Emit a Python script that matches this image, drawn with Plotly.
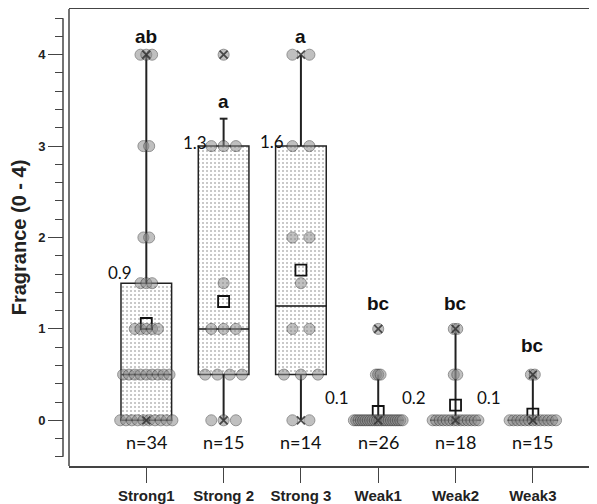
import plotly.graph_objects as go

# ---------------- data ----------------
categories = ["Strong1", "Strong 2", "Strong 3", "Weak1", "Weak2", "Weak3"]
score_levels = [0, 0.5, 1, 1.5, 2, 3, 4]
# number of panelists giving each score level (per group)
counts_strong1 = [10, 9, 5, 3, 2, 2, 3]
counts_strong2 = [3, 4, 3, 1, 0, 3, 1]
counts_strong3 = [2, 3, 2, 1, 2, 2, 2]
counts_weak1 = [22, 3, 1, 0, 0, 0, 0]
counts_weak2 = [14, 2, 2, 0, 0, 0, 0]
counts_weak3 = [13, 2, 0, 0, 0, 0, 0]
group_counts = [counts_strong1, counts_strong2, counts_strong3,
                counts_weak1, counts_weak2, counts_weak3]

# box statistics
q1 = [0, 0.5, 0.5, 0, 0, 0]
median = [0.5, 1.0, 1.25, 0, 0, 0]
q3 = [1.5, 3.0, 3.0, 0, 0, 0]
whisker_lo = [0, 0, 0, 0, 0, 0]
whisker_hi = [4, 3.3, 4, 0.5, 1, 0.5]

mean_labels = ["0.9", "1.3", "1.6", "0.1", "0.2", "0.1"]
letters = ["ab", "a", "a", "bc", "bc", "bc"]
n_labels = ["n=34", "n=15", "n=14", "n=26", "n=18", "n=15"]

# ---------------- styles / layout positions ----------------
box_w = 0.655
dot_spacing = [0.075, 0.159, 0.22, 0.030, 0.0455, 0.050]
cap_half = [0, 0.05, 0, 0, 0, 0]
mean_label_dx = [-0.34, -0.37, -0.37, -0.53, -0.54, -0.57]
mean_label_y = [1.62, 3.04, 3.05, 0.25, 0.25, 0.25]
letter_y = [4.2, 3.49, 4.2, 1.28, 1.28, 0.82]
n_label_y = -0.24

BOLD = "Liberation Sans, Arial, sans-serif"
LIGHT = "Lato, Open Sans, sans-serif"

fig = go.Figure()
idx = list(range(len(categories)))

# boxes (stippled)
fig.add_trace(go.Bar(
    x=idx, y=[b - a for a, b in zip(q1, q3)], base=q1, width=box_w,
    marker=dict(color="white",
                pattern=dict(shape=".", fgcolor="#777777", bgcolor="white",
                             size=4, solidity=0.22),
                line=dict(color="#222222", width=1.5)),
    hoverinfo="skip"))

# whiskers + caps
wx, wy = [], []
for i in idx:
    wx += [i, i, None, i, i, None]
    wy += [q3[i], whisker_hi[i], None, q1[i], whisker_lo[i], None]
    if cap_half[i] > 0:
        wx += [i - cap_half[i], i + cap_half[i], None]
        wy += [whisker_hi[i], whisker_hi[i], None]
fig.add_trace(go.Scatter(x=wx, y=wy, mode="lines",
                         line=dict(color="#222222", width=2), hoverinfo="skip"))

# medians
mx, my = [], []
for i in idx:
    if q3[i] > q1[i]:
        mx += [i - box_w / 2, i + box_w / 2, None]
        my += [median[i], median[i], None]
fig.add_trace(go.Scatter(x=mx, y=my, mode="lines",
                         line=dict(color="#111111", width=1.5), hoverinfo="skip"))

# means
means = []
for c in group_counts:
    n = sum(c)
    means.append(sum(v * k for v, k in zip(score_levels, c)) / n)
fig.add_trace(go.Scatter(x=idx, y=means, mode="markers",
                         marker=dict(symbol="square-open", size=11, color="#111111",
                                     line=dict(width=1.8)), hoverinfo="skip"))

# individual dots (semi-transparent, so overlaps darken)
for i, c in enumerate(group_counts):
    xs, ys = [], []
    for v, k in zip(score_levels, c):
        for j in range(k):
            xs.append(i + (j - (k - 1) / 2) * dot_spacing[i])
            ys.append(v)
    fig.add_trace(go.Scatter(
        x=xs, y=ys, mode="markers",
        marker=dict(symbol="circle", size=11, color="#888888", opacity=0.52,
                    line=dict(color="#2e2e2e", width=1)),
        hoverinfo="skip"))

# min / max crosses
cx, cy = [], []
for i, c in enumerate(group_counts):
    present = [v for v, k in zip(score_levels, c) if k > 0]
    cx += [i, i]
    cy += [min(present), max(present)]
fig.add_trace(go.Scatter(x=cx, y=cy, mode="markers",
                         marker=dict(symbol="x-thin", size=8, color="#333333",
                                     opacity=0.85,
                                     line=dict(width=1.8, color="#333333")),
                         hoverinfo="skip"))

# annotations
ann = []
for i in idx:
    ann.append(dict(x=i, y=letter_y[i], xref="x", yref="y", text=letters[i],
                    showarrow=False,
                    font=dict(family=BOLD, size=19, color="#111111", weight="bold"),
                    xanchor="center", yanchor="middle"))
    ann.append(dict(x=i, y=n_label_y, xref="x", yref="y", text=n_labels[i],
                    showarrow=False, font=dict(family=LIGHT, size=18, color="#111111"),
                    xanchor="center", yanchor="middle"))
    ann.append(dict(x=i + mean_label_dx[i], y=mean_label_y[i], xref="x", yref="y",
                    text=mean_labels[i], showarrow=False,
                    font=dict(family=LIGHT, size=17, color="#111111"),
                    xanchor="center", yanchor="middle"))

plot_left = 6 / 534
shapes = [
    # detached y-axis line
    dict(type="line", xref="paper", yref="y", x0=0, x1=0, y0=-0.4, y1=4.4,
         line=dict(color="#444444", width=1.5)),
    # left frame border
    dict(type="line", xref="paper", yref="paper", x0=plot_left, x1=plot_left,
         y0=0, y1=1, line=dict(color="#444444", width=1.5)),
]

# the page body adds an 8px offset, so the figure is 8px smaller on each axis
fig.update_layout(
    width=589, height=496,
    margin=dict(l=55, r=0, t=1, b=38, autoexpand=False),
    plot_bgcolor="white", paper_bgcolor="white",
    showlegend=False, barmode="overlay",
    annotations=ann, shapes=shapes,
    xaxis=dict(domain=[plot_left, 1], range=[-1, 5.83], tickmode="array",
               tickvals=idx, ticktext=categories, ticks="outside", ticklen=15,
               tickwidth=1, tickcolor="#444444", showline=True, linecolor="#444444",
               linewidth=1.5, mirror=True, showgrid=False, zeroline=False,
               automargin=False,
               tickfont=dict(family=BOLD, size=15, color="#222222", weight="bold")),
    yaxis=dict(anchor="free", position=0, range=[-0.5, 4.5], tickmode="linear",
               tick0=0, dtick=1, ticks="outside", ticklen=15, tickwidth=1,
               tickcolor="#444444", showline=False, showgrid=False, zeroline=False,
               automargin=False,
               minor=dict(tickmode="linear", tick0=0, dtick=0.2, ticks="outside",
                          ticklen=8, tickwidth=1, tickcolor="#444444"),
               tickfont=dict(family=BOLD, size=13, color="#222222", weight="bold"),
               title=dict(text="Fragrance (0 - 4)", standoff=9,
                          font=dict(family=BOLD, size=20, color="#222222",
                                    weight="bold"))),
)

fig.write_html("out.html")
